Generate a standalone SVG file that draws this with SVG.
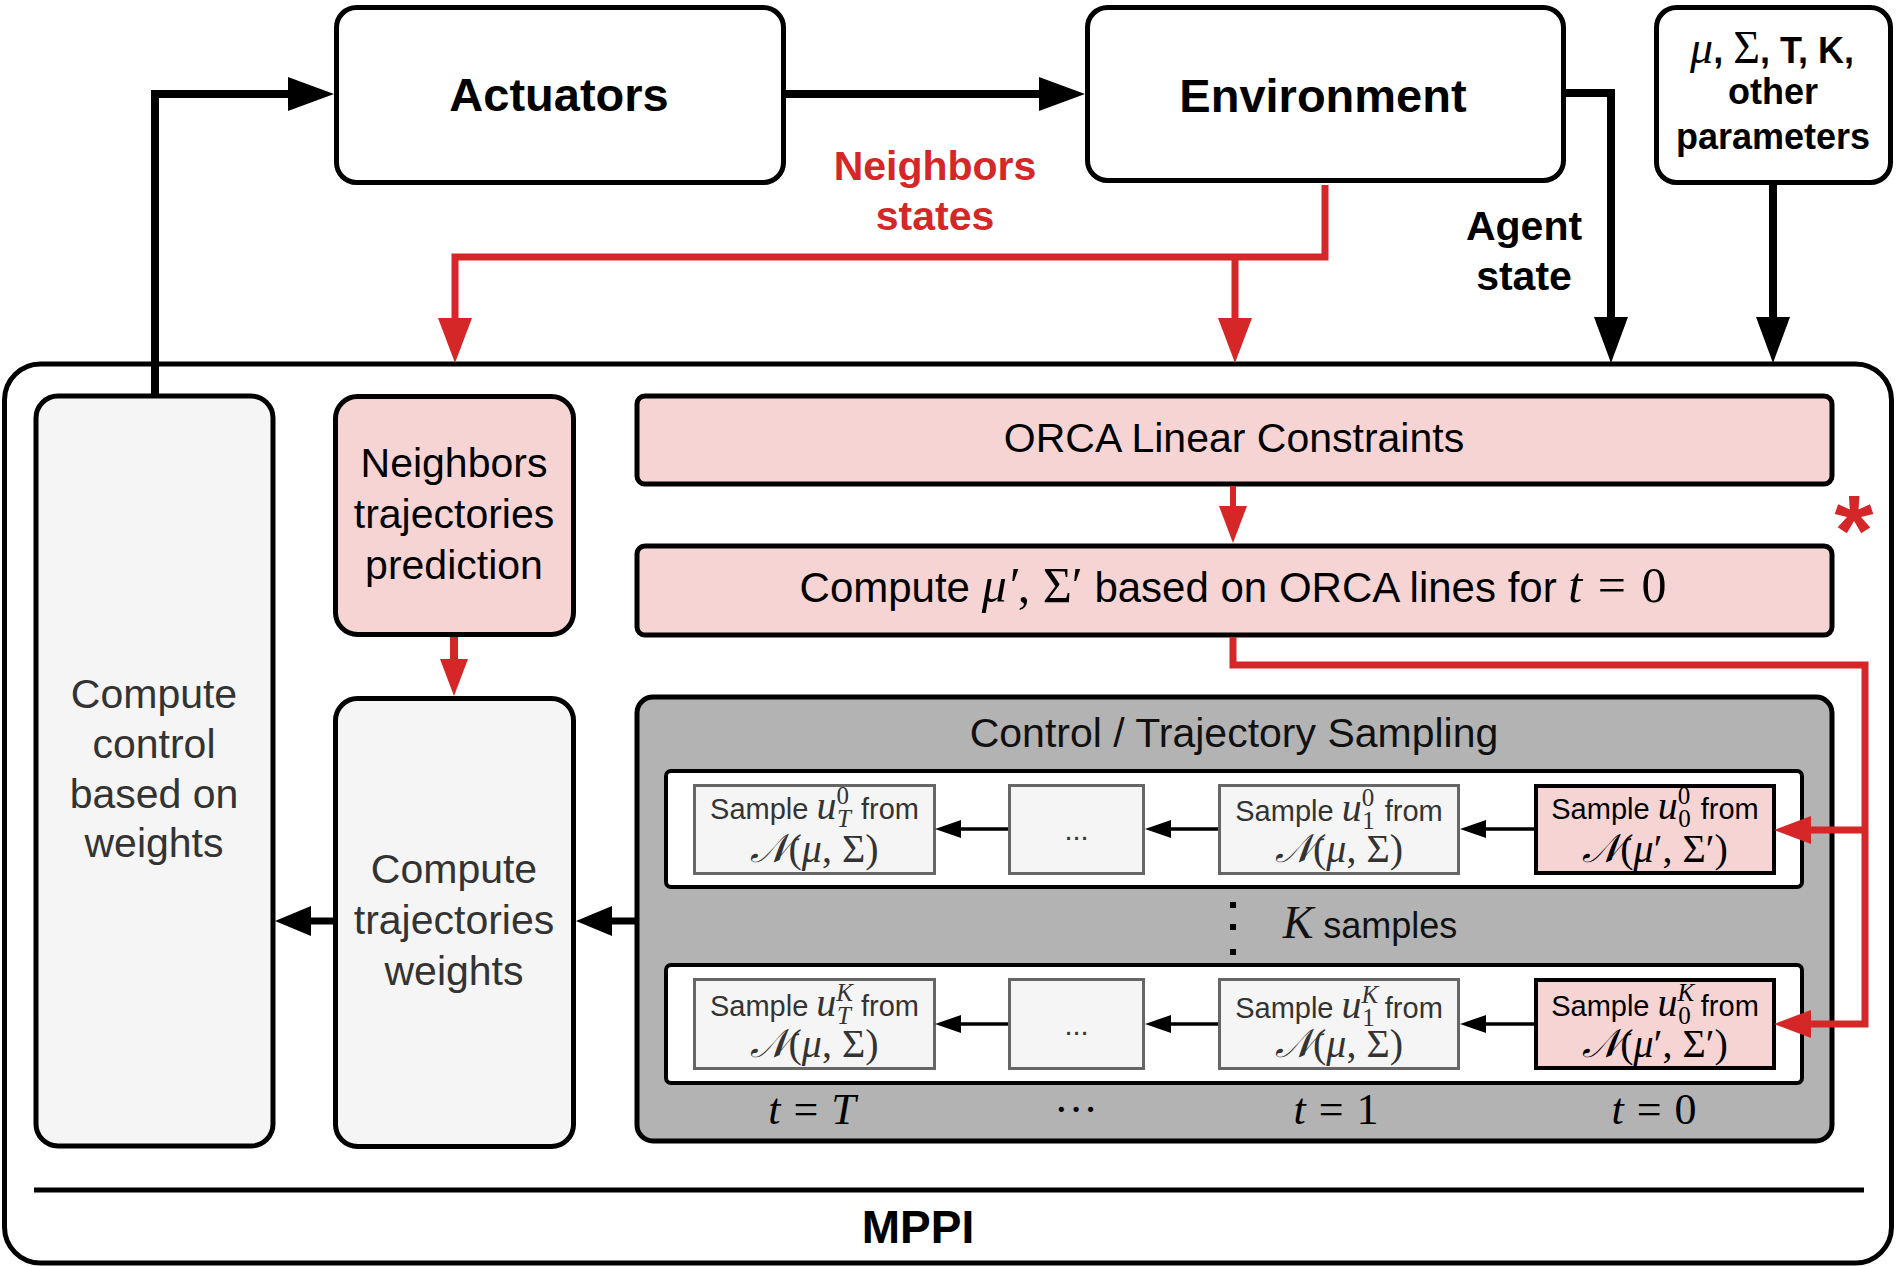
<svg xmlns="http://www.w3.org/2000/svg" width="1896" height="1266" viewBox="0 0 1896 1266">
<style>
text{text-anchor:middle}
.sans{font-family:"Liberation Sans",Arial,sans-serif}
.b{font-family:"Liberation Sans",Arial,sans-serif;font-weight:bold}
.m{font-family:"Liberation Serif","Times New Roman",serif;font-weight:normal}
.i{font-style:italic}
.cal{font-family:"DejaVu Serif","Liberation Serif",serif;font-style:italic}
.node{stroke:#000;stroke-width:5}
.white{fill:#fff}
.pink{fill:#f6d4d4}
.lgray{fill:#f5f5f5}
.dgray{fill:#b3b3b3}
.sbox{fill:#f5f5f5;stroke:#666;stroke-width:3}
.pbox{fill:#f6d4d4;stroke:#000;stroke-width:4}
.row{fill:#fff;stroke:#000;stroke-width:4}
.blk{fill:none;stroke:#000;stroke-linejoin:miter}
.red{fill:none;stroke:#d62728;stroke-linejoin:miter}
.t41{font-size:41px}
.smp{font-size:29px;fill:#333}
.smpk{font-size:29px;fill:#000}
.scr{font-size:25px}
.mu{font-size:40px}
.mt{font-size:40px}
.tl{font-size:44px}
</style>
<defs>
<marker id="aBL" markerUnits="userSpaceOnUse" markerWidth="46" markerHeight="34" refX="0" refY="17" orient="auto"><path d="M0,0 L46,17 L0,34 z" fill="#000"/></marker>
<marker id="aBM" markerUnits="userSpaceOnUse" markerWidth="36" markerHeight="30" refX="0" refY="15" orient="auto"><path d="M0,0 L36,15 L0,30 z" fill="#000"/></marker>
<marker id="aBS" markerUnits="userSpaceOnUse" markerWidth="26" markerHeight="20" refX="0" refY="10" orient="auto"><path d="M0,1 L26,10 L0,19 z" fill="#000"/></marker>
<marker id="aRL" markerUnits="userSpaceOnUse" markerWidth="45" markerHeight="34" refX="0" refY="17" orient="auto"><path d="M0,0 L45,17 L0,34 z" fill="#d62728"/></marker>
<marker id="aRM" markerUnits="userSpaceOnUse" markerWidth="37" markerHeight="28" refX="0" refY="14" orient="auto"><path d="M0,0 L37,14 L0,28 z" fill="#d62728"/></marker>
</defs>

<g id="mppi">
<rect x="4.5" y="364" width="1887" height="899" rx="36" class="node white"/>
<line x1="34" y1="1190" x2="1864" y2="1190" stroke="#000" stroke-width="5"/>
<text class="b" x="918" y="1243" font-size="46">MPPI</text>
</g>

<g id="actuators">
<rect x="336.5" y="7.5" width="447" height="175" rx="20" class="node white"/>
<text class="b" x="559" y="111" font-size="47">Actuators</text>
</g>

<g id="environment">
<rect x="1087.5" y="7.5" width="476" height="173" rx="20" class="node white"/>
<text class="b" x="1323" y="112" font-size="47">Environment</text>
</g>

<g id="params">
<rect x="1656.5" y="7.5" width="234" height="175" rx="20" class="node white"/>
<text class="b" x="1772" y="63" font-size="36"><tspan class="m i" font-size="46">μ</tspan>, <tspan class="m" font-size="46">Σ</tspan>, T, K,</text>
<text class="b" x="1773" y="104" font-size="36">other</text>
<text class="b" x="1773" y="149" font-size="36">parameters</text>
</g>

<g id="labels">
<text class="b" x="935" y="180" font-size="41" fill="#d62728">Neighbors</text>
<text class="b" x="935" y="230" font-size="41" fill="#d62728">states</text>
<text class="b" x="1524" y="240" font-size="41">Agent</text>
<text class="b" x="1524" y="290" font-size="41">state</text>
<text class="b" x="1854" y="565" font-size="100" fill="#d62728">*</text>
</g>

<g id="compute-control">
<rect x="36" y="396" width="237" height="750" rx="22" class="node lgray"/>
<text class="sans t41" x="154" y="708" fill="#333">Compute</text>
<text class="sans t41" x="154" y="758" fill="#333">control</text>
<text class="sans t41" x="154" y="808" fill="#333">based on</text>
<text class="sans t41" x="154" y="857" fill="#333">weights</text>
</g>

<g id="neighbors-prediction">
<rect x="335.5" y="396.5" width="238" height="238" rx="22" class="node pink"/>
<text class="sans t41" x="454" y="477">Neighbors</text>
<text class="sans t41" x="454" y="528">trajectories</text>
<text class="sans t41" x="454" y="579">prediction</text>
</g>

<g id="trajectory-weights">
<rect x="335.5" y="698.5" width="238" height="448" rx="22" class="node lgray"/>
<text class="sans t41" x="454" y="883" fill="#333">Compute</text>
<text class="sans t41" x="454" y="934" fill="#333">trajectories</text>
<text class="sans t41" x="454" y="985" fill="#333">weights</text>
</g>

<g id="orca">
<rect x="637" y="396" width="1195" height="88" rx="8" class="node pink"/>
<text class="sans t41" x="1234" y="452">ORCA Linear Constraints</text>
</g>

<g id="compute-mu">
<rect x="637" y="546" width="1195" height="89" rx="8" class="node pink"/>
<text class="sans" font-size="42" x="1233" y="602">Compute <tspan class="m i" font-size="50">μ′</tspan><tspan class="m" font-size="50">, Σ′</tspan> based on ORCA lines for <tspan class="m i" font-size="50">t</tspan><tspan class="m" font-size="50" dx="3"> = </tspan><tspan class="m" font-size="50" dx="3">0</tspan></text>
</g>

<g id="sampling">
<rect x="637" y="697" width="1195" height="444" rx="16" class="node dgray"/>
<text class="sans t41" x="1234" y="747" fill="#111">Control / Trajectory Sampling</text>
<rect x="666" y="771" width="1136" height="116" rx="5" class="row"/>
<rect x="666" y="965" width="1136" height="118" rx="5" class="row"/>
<rect x="1230" y="902" width="6" height="6" fill="#000"/>
<rect x="1230" y="924" width="6" height="6" fill="#000"/>
<rect x="1230" y="949" width="6" height="6" fill="#000"/>
<text x="1370" y="938" class="sans" font-size="36" fill="#111"><tspan class="m i" font-size="46">K</tspan> samples</text>
<text class="m tl" x="812" y="1124"><tspan class="i">t</tspan><tspan dx="2"> = </tspan><tspan class="i" dx="2">T</tspan></text>
<text class="m tl" x="1076" y="1124">···</text>
<text class="m tl" x="1336" y="1124"><tspan class="i">t</tspan><tspan dx="2"> = </tspan><tspan dx="2">1</tspan></text>
<text class="m tl" x="1654" y="1124"><tspan class="i">t</tspan><tspan dx="2"> = </tspan><tspan dx="2">0</tspan></text>
</g>

<g id="sample-1-T">
<rect x="694.5" y="785.5" width="240" height="88" class="sbox"/>
<text class="sans smp" x="814.5" y="819">Sample <tspan class="m i mu">u</tspan><tspan class="m scr" dy="-15">0</tspan><tspan class="m i scr" dx="-12" dy="23">T</tspan><tspan dx="2" dy="-8"> from</tspan></text>
<text class="m mt" x="814.5" y="862" fill="#333"><tspan class="cal">𝒩</tspan>(<tspan class="i">μ</tspan>, Σ)</text>
</g>
<g id="sample-1-dots">
<rect x="1009.5" y="785.5" width="134" height="88" class="sbox"/>
<text class="sans smp" x="1076.5" y="840">...</text>
</g>
<g id="sample-1-1">
<rect x="1219.5" y="785.5" width="239" height="88" class="sbox"/>
<text class="sans smp" x="1339" y="821">Sample <tspan class="m i mu">u</tspan><tspan class="m scr" dy="-15">0</tspan><tspan class="m scr" dx="-12" dy="23">1</tspan><tspan dx="2" dy="-8"> from</tspan></text>
<text class="m mt" x="1339" y="862" fill="#333"><tspan class="cal">𝒩</tspan>(<tspan class="i">μ</tspan>, Σ)</text>
</g>
<g id="sample-1-0">
<rect x="1536" y="786" width="238" height="87" class="pbox"/>
<text class="sans smpk" x="1655" y="819">Sample <tspan class="m i mu">u</tspan><tspan class="m scr" dy="-15">0</tspan><tspan class="m scr" dx="-12" dy="23">0</tspan><tspan dx="2" dy="-8"> from</tspan></text>
<text class="m mt" x="1655" y="862"><tspan class="cal">𝒩</tspan>(<tspan class="i">μ</tspan>′, Σ′)</text>
</g>

<g id="sample-K-T">
<rect x="694.5" y="979.5" width="240" height="89" class="sbox"/>
<text class="sans smp" x="814.5" y="1016">Sample <tspan class="m i mu">u</tspan><tspan class="m i scr" dy="-15">K</tspan><tspan class="m i scr" dx="-16" dy="23">T</tspan><tspan dx="2" dy="-8"> from</tspan></text>
<text class="m mt" x="814.5" y="1057" fill="#333"><tspan class="cal">𝒩</tspan>(<tspan class="i">μ</tspan>, Σ)</text>
</g>
<g id="sample-K-dots">
<rect x="1009.5" y="979.5" width="134" height="89" class="sbox"/>
<text class="sans smp" x="1076.5" y="1035">...</text>
</g>
<g id="sample-K-1">
<rect x="1219.5" y="979.5" width="239" height="89" class="sbox"/>
<text class="sans smp" x="1339" y="1018">Sample <tspan class="m i mu">u</tspan><tspan class="m i scr" dy="-15">K</tspan><tspan class="m scr" dx="-16" dy="23">1</tspan><tspan dx="2" dy="-8"> from</tspan></text>
<text class="m mt" x="1339" y="1057" fill="#333"><tspan class="cal">𝒩</tspan>(<tspan class="i">μ</tspan>, Σ)</text>
</g>
<g id="sample-K-0">
<rect x="1536" y="980" width="238" height="88" class="pbox"/>
<text class="sans smpk" x="1655" y="1016">Sample <tspan class="m i mu">u</tspan><tspan class="m i scr" dy="-15">K</tspan><tspan class="m scr" dx="-16" dy="23">0</tspan><tspan dx="2" dy="-8"> from</tspan></text>
<text class="m mt" x="1655" y="1057"><tspan class="cal">𝒩</tspan>(<tspan class="i">μ</tspan>′, Σ′)</text>
</g>

<g id="connectors">
<path class="blk" stroke-width="8" d="M155,396 V94 H288" marker-end="url(#aBL)"/>
<path class="blk" stroke-width="8" d="M786,94 H1039" marker-end="url(#aBL)"/>
<path class="blk" stroke-width="8" d="M1566,93 H1611 V317" marker-end="url(#aBL)"/>
<path class="blk" stroke-width="8" d="M1773,185 V317" marker-end="url(#aBL)"/>
<path class="blk" stroke-width="7" d="M637,921 H612" marker-end="url(#aBM)"/>
<path class="blk" stroke-width="7" d="M335,921 H311" marker-end="url(#aBM)"/>
<path class="blk" stroke-width="3.5" d="M1534,829 H1486" marker-end="url(#aBS)"/>
<path class="blk" stroke-width="3.5" d="M1218,829 H1171" marker-end="url(#aBS)"/>
<path class="blk" stroke-width="3.5" d="M1008,829 H961" marker-end="url(#aBS)"/>
<path class="blk" stroke-width="3.5" d="M1534,1024 H1486" marker-end="url(#aBS)"/>
<path class="blk" stroke-width="3.5" d="M1218,1024 H1171" marker-end="url(#aBS)"/>
<path class="blk" stroke-width="3.5" d="M1008,1024 H961" marker-end="url(#aBS)"/>
<path class="red" stroke-width="7" d="M1325,185 V257 H455 V318" marker-end="url(#aRL)"/>
<path class="red" stroke-width="7" d="M1235,257 V318" marker-end="url(#aRL)"/>
<path class="red" stroke-width="8" d="M454,637 V659" marker-end="url(#aRM)"/>
<path class="red" stroke-width="6" d="M1233,486 V506" marker-end="url(#aRM)"/>
<path class="red" stroke-width="7" d="M1233,637 V665 H1865 V1024 H1811" marker-end="url(#aRM)"/>
<path class="red" stroke-width="7" d="M1865,830 H1811" marker-end="url(#aRM)"/>
</g>
</svg>
